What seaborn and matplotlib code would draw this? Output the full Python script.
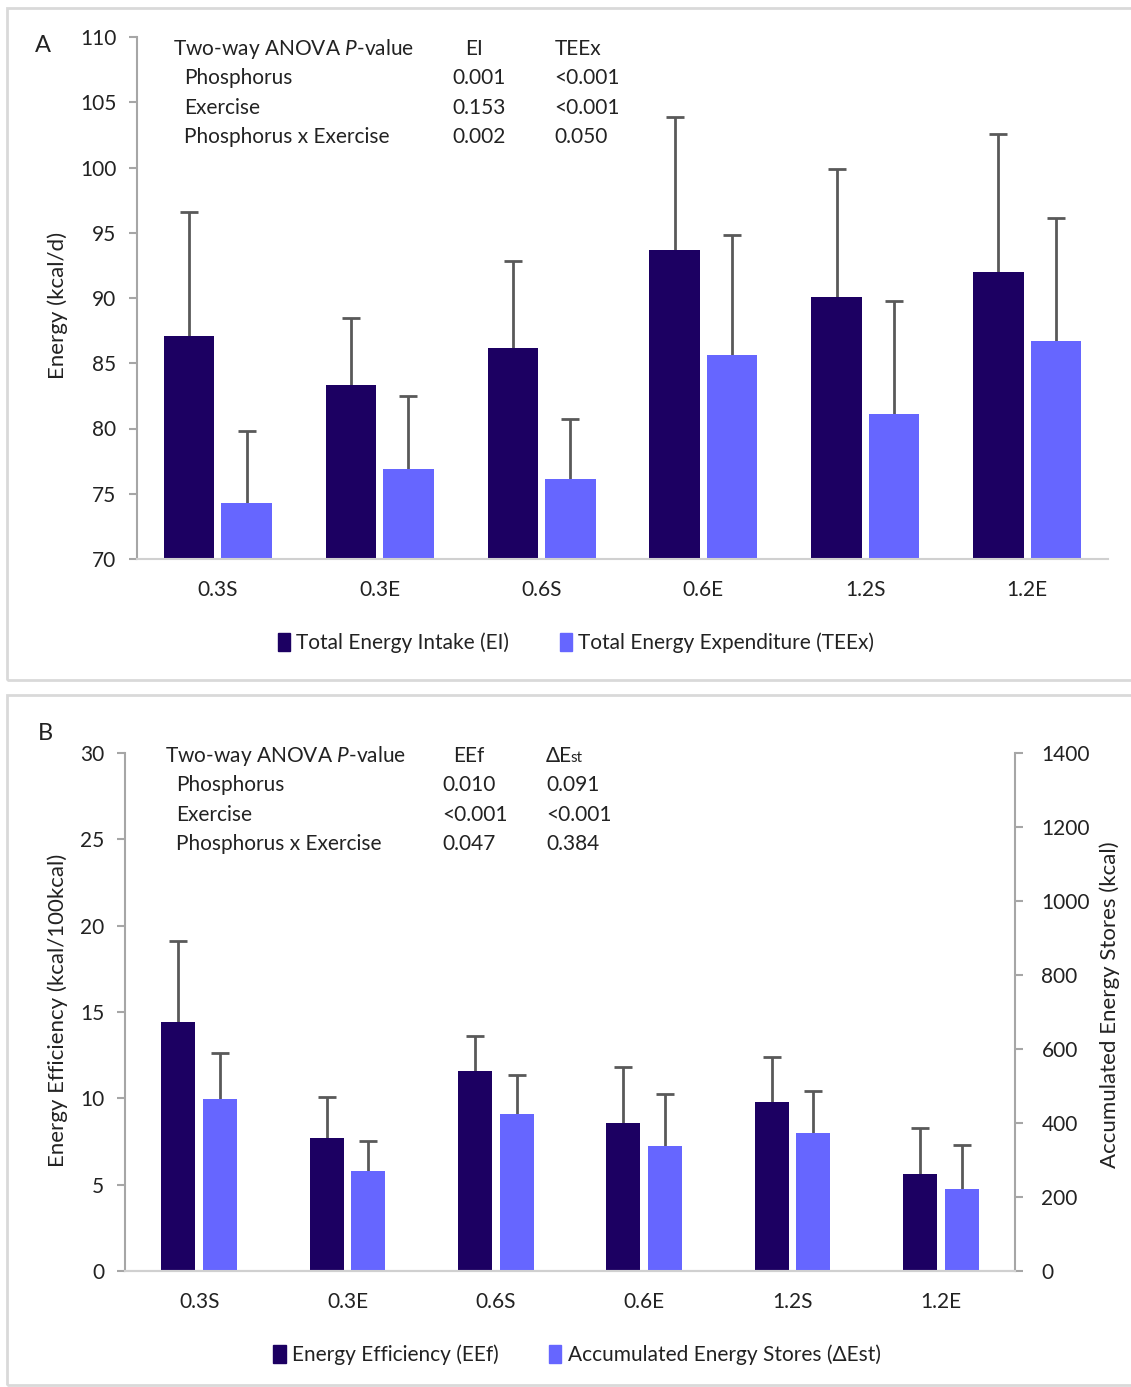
import numpy as np
import pandas as pd
import matplotlib
matplotlib.use("Agg")
import matplotlib.pyplot as plt
import seaborn as sns
from matplotlib.patches import Patch, Rectangle

# ---- data ----
groups = ["0.3S", "0.3E", "0.6S", "0.6E", "1.2S", "1.2E"]

ei_mean = [87.1, 83.3, 86.2, 93.7, 90.1, 92.0]
ei_sd = [9.5, 5.2, 6.6, 10.2, 9.8, 10.6]
teex_mean = [74.3, 76.9, 76.1, 85.6, 81.1, 86.7]
teex_sd = [5.5, 5.6, 4.6, 9.2, 8.7, 9.4]

eef_mean = [14.4, 7.7, 11.6, 8.6, 9.8, 5.6]
eef_sd = [4.7, 2.4, 2.0, 3.2, 2.6, 2.7]
est_mean = [465, 270, 424, 338, 373, 222]
est_sd = [124, 81, 106, 140, 113, 118]

anova_a_rows = ["Phosphorus", "Exercise", "Phosphorus x Exercise"]
anova_a_ei = ["0.001", "0.153", "0.002"]
anova_a_teex = ["<0.001", "<0.001", "0.050"]
anova_b_rows = ["Phosphorus", "Exercise", "Phosphorus x Exercise"]
anova_b_eef = ["0.010", "<0.001", "0.047"]
anova_b_est = ["0.091", "<0.001", "0.384"]

DARK = "#1c0062"
LIGHT = "#6666ff"
TXT = "#222222"
AXC = "#a6a6a6"

sns.set_theme(style="white")
plt.rcParams["font.family"] = ["Lato", "DejaVu Sans"]
plt.rcParams["mathtext.fontset"] = "custom"
plt.rcParams["mathtext.it"] = "Lato:italic"
plt.rcParams["mathtext.rm"] = "Lato"
plt.rcParams["text.color"] = TXT

W, H = 1131, 1387
fig = plt.figure(figsize=(W / 100, H / 100), dpi=100)


def fx(x):
    return x / W


def fy(y):
    return 1 - y / H


# panel frames
for (x0, y0, x1, y1) in [(7, 8, 1140, 680), (7, 695, 1140, 1385)]:
    fig.patches.append(Rectangle((fx(x0), fy(y1)), fx(x1) - fx(x0), fy(y0) - fy(y1),
                                 transform=fig.transFigure, fill=False,
                                 edgecolor="#d9d9d9", lw=2))


def style_axis(ax, left=True, right=False):
    for s in ax.spines.values():
        s.set_visible(False)
    ax.spines["bottom"].set_visible(True)
    ax.spines["bottom"].set_color("#d0d0d0")
    ax.spines["bottom"].set_linewidth(1.5)
    if left:
        ax.spines["left"].set_visible(True)
        ax.spines["left"].set_color(AXC)
        ax.spines["left"].set_linewidth(1.5)
    if right:
        ax.spines["right"].set_visible(True)
        ax.spines["right"].set_color(AXC)
        ax.spines["right"].set_linewidth(1.5)
    ax.tick_params(axis="x", bottom=False, labelsize=15, labelcolor=TXT, pad=9)
    ax.set_xlabel("")
    ax.set_ylabel("")
    ax.grid(False)


def add_errbars(ax, container, sd):
    # drawn beneath the bars so only the upper whisker shows
    xs = [p.get_x() + p.get_width() / 2 for p in container.patches]
    ys = [p.get_height() + p.get_y() for p in container.patches]
    ax.errorbar(xs, ys, yerr=sd, fmt="none",
                ecolor="#595959", elinewidth=2, capsize=6.5, capthick=2, zorder=0.5)


# ================= Panel A =================
axA = fig.add_axes([fx(137), fy(559), fx(1108) - fx(137), fy(37) - fy(559)])
dfA = pd.DataFrame({
    "group": groups * 2,
    "series": ["EI"] * 6 + ["TEEx"] * 6,
    "value": ei_mean + teex_mean,
})
sns.barplot(data=dfA, x="group", y="value", hue="series", hue_order=["EI", "TEEx"],
            palette={"EI": DARK, "TEEx": LIGHT}, saturation=1, width=0.71, gap=0.12,
            errorbar=None, legend=False, linewidth=0, ax=axA)
add_errbars(axA, axA.containers[0], ei_sd)
add_errbars(axA, axA.containers[1], teex_sd)
axA.set_ylim(70, 110)
axA.set_yticks(np.arange(70, 111, 5))
axA.set_xlim(-0.5, 5.5)
style_axis(axA)
axA.tick_params(axis="y", left=True, length=6, width=1.5, color=AXC,
                labelsize=15, labelcolor=TXT, pad=9)

fig.text(fx(58), fy(305), "Energy (kcal/d)", rotation=90, ha="center", va="center", fontsize=16)
fig.text(fx(43), fy(45), "A", ha="center", va="center", fontsize=17)

fs = 15
fig.text(fx(173), fy(49), r"Two-way ANOVA $\it{P}$-value", ha="left", va="center", fontsize=fs)
fig.text(fx(465), fy(49), "EI", ha="left", va="center", fontsize=fs)
fig.text(fx(555), fy(49), "TEEx", ha="left", va="center", fontsize=fs)
for i, (r, a, b) in enumerate(zip(anova_a_rows, anova_a_ei, anova_a_teex)):
    yy = fy(78 + i * 29.5)
    fig.text(fx(184), yy, r, ha="left", va="center", fontsize=fs)
    fig.text(fx(452), yy, a, ha="left", va="center", fontsize=fs)
    fig.text(fx(554), yy, b, ha="left", va="center", fontsize=fs)

fig.legend(handles=[Patch(color=DARK), Patch(color=LIGHT)],
           labels=["Total Energy Intake (EI)", "Total Energy Expenditure (TEEx)"],
           loc="center", bbox_to_anchor=(fx(576), fy(643)), ncol=2, frameon=False,
           fontsize=15, handlelength=0.6, handleheight=0.9, handletextpad=0.3,
           columnspacing=2.4)

# ================= Panel B =================
axB = fig.add_axes([fx(125), fy(1271), fx(1015) - fx(125), fy(753) - fy(1271)])
axB2 = axB.twinx()
# each axis gets both hue levels so the dodge is kept; the other series is NaN
dfB1 = pd.DataFrame({"group": groups * 2, "series": ["EEf"] * 6 + ["dEst"] * 6,
                     "value": eef_mean + [np.nan] * 6})
dfB2 = pd.DataFrame({"group": groups * 2, "series": ["EEf"] * 6 + ["dEst"] * 6,
                     "value": [np.nan] * 6 + est_mean})
pal_b = {"EEf": DARK, "dEst": LIGHT}
sns.barplot(data=dfB1, x="group", y="value", hue="series", hue_order=["EEf", "dEst"],
            palette=pal_b, saturation=1, width=0.56, gap=0.18,
            errorbar=None, legend=False, linewidth=0, ax=axB)
sns.barplot(data=dfB2, x="group", y="value", hue="series", hue_order=["EEf", "dEst"],
            palette=pal_b, saturation=1, width=0.56, gap=0.18,
            errorbar=None, legend=False, linewidth=0, ax=axB2)
add_errbars(axB, axB.containers[0], eef_sd)
add_errbars(axB2, axB2.containers[-1], est_sd)
axB.set_ylim(0, 30)
axB.set_yticks(np.arange(0, 31, 5))
axB2.set_ylim(0, 1400)
axB2.set_yticks(np.arange(0, 1401, 200))
axB.set_xlim(-0.5, 5.5)
axB2.set_xlim(-0.5, 5.5)
style_axis(axB)
style_axis(axB2, left=False, right=True)
axB.tick_params(axis="y", left=True, length=6, width=1.5, color=AXC,
                labelsize=15, labelcolor=TXT, pad=9)
axB2.tick_params(axis="y", right=True, left=False, labelright=True, labelleft=False,
                 length=6, width=1.5, color=AXC, labelsize=15, labelcolor=TXT, pad=13)

fig.text(fx(58), fy(1010), "Energy Efficiency (kcal/100kcal)", rotation=90,
         ha="center", va="center", fontsize=16)
fig.text(fx(1110), fy(1005), "Accumulated Energy Stores (kcal)", rotation=90,
         ha="center", va="center", fontsize=16)
fig.text(fx(45), fy(733), "B", ha="center", va="center", fontsize=17)

fig.text(fx(165), fy(756), r"Two-way ANOVA $\it{P}$-value", ha="left", va="center", fontsize=fs)
fig.text(fx(453), fy(756), "EEf", ha="left", va="center", fontsize=fs)
fig.text(fx(546), fy(756), "ΔE", ha="left", va="center", fontsize=fs)
fig.text(fx(570), fy(762), "st", ha="left", va="baseline", fontsize=11)
for i, (r, a, b) in enumerate(zip(anova_b_rows, anova_b_eef, anova_b_est)):
    yy = fy(785 + i * 29.5)
    fig.text(fx(176), yy, r, ha="left", va="center", fontsize=fs)
    fig.text(fx(442), yy, a, ha="left", va="center", fontsize=fs)
    fig.text(fx(546), yy, b, ha="left", va="center", fontsize=fs)

fig.legend(handles=[Patch(color=DARK), Patch(color=LIGHT)],
           labels=["Energy Efficiency (EEf)", "Accumulated Energy Stores (ΔEst)"],
           loc="center", bbox_to_anchor=(fx(577), fy(1355)), ncol=2, frameon=False,
           fontsize=15, handlelength=0.6, handleheight=0.9, handletextpad=0.3,
           columnspacing=2.4)

fig.savefig("out.png", dpi=100, facecolor="white")
